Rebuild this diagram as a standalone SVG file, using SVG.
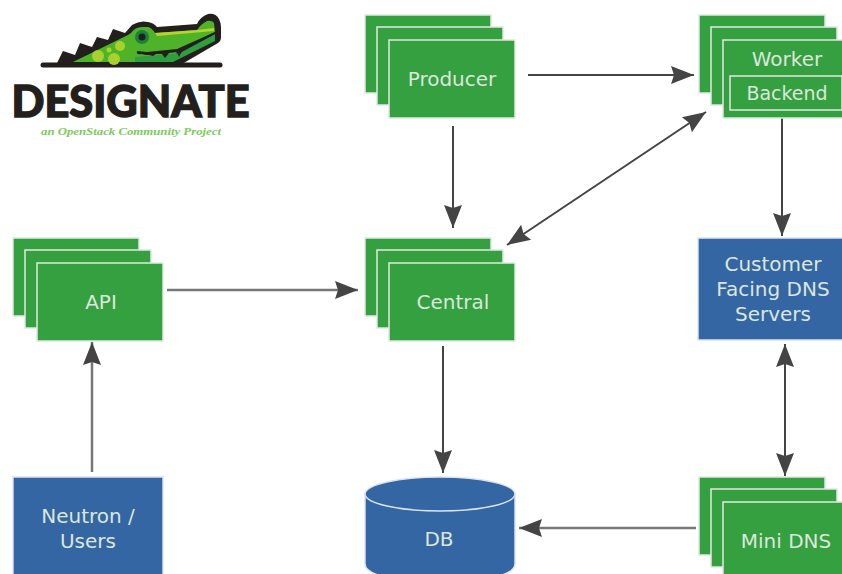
<svg xmlns="http://www.w3.org/2000/svg" width="842" height="574" viewBox="0 0 842 574">
<defs>
<style>
.g{fill:#34a040;stroke:#e2e8e2;stroke-width:1.5}
.b{fill:#3366a3;stroke:#dde4ee;stroke-width:1.5}
.t{font-family:"DejaVu Sans",sans-serif;font-size:20px;fill:#dce6dc;text-anchor:middle}
.c{fill:none;stroke:#444;stroke-width:2}
.c2{fill:none;stroke:#777;stroke-width:2.5}
.h{fill:#444}
</style>
<marker id="a" markerUnits="userSpaceOnUse" markerWidth="24" markerHeight="20" refX="23" refY="10" orient="auto-start-reverse"><path class="h" d="M0 1L23 10L0 19L3 10Z"/></marker>
<g id="s"><rect class="g" x="0" y="0" width="126" height="78"/><rect class="g" x="12" y="12" width="126" height="78"/><rect class="g" x="24" y="25" width="126" height="78"/></g>
</defs>
<rect width="842" height="574" fill="#fff"/>
<g id="logo">
<path d="M43 65H220" stroke="#231f1c" stroke-width="5" stroke-linecap="round" fill="none"/>
<path d="M57 63L63 51L75 55L80 43L92 47L97 37L108 40L113 29L125 33L132 25Q140 20 148 22Q154 23 157 27L197 24Q200 17 208 14Q216 13 219 19Q221 23 221 27V38Q221 41 218 43L182 64Z" fill="#231f1c"/>
<path d="M73 62L128 35L131 33Q135 27 142 27H148Q152 28 155 33L197 30Q201 24 207 21Q212 20 214 23L215 32L177 51L173 62Z" fill="#4fb32a"/>
<path d="M155 33L197 30L214 28V31L157 36Z" fill="#b5d42c"/>
<path d="M135 57L180 53L215 34V41L173 62H135Z" fill="#2f9e3e"/>
<path d="M215 32L177 49L147 52L137 51Q136 55 141 54L146 55L149 55L153 56L156 54L162 54L165 58L169 53L177 52L179 57L182 51L215 34Z" fill="#231f1c"/>
<circle cx="142" cy="37" r="7" fill="#1c7f3c"/><circle cx="142" cy="37" r="3.5" fill="#231f1c"/>
<circle cx="120" cy="46" r="5" fill="#a9d12e"/><circle cx="114" cy="59" r="6" fill="#a9d12e" /><circle cx="98" cy="56" r="6" fill="#a9d12e"/><circle cx="109" cy="50" r="2.5" fill="#a9d12e"/>
<text x="11.5" y="117" font-family="Lato,sans-serif" font-weight="900" font-size="44" fill="#231f1c" stroke="#231f1c" stroke-width="1.4" textLength="238" lengthAdjust="spacingAndGlyphs">DESIGNATE</text>
<text x="41" y="135" font-family="'Liberation Serif',serif" font-style="italic" font-weight="700" font-size="10.5" fill="#7cc95c" textLength="180" lengthAdjust="spacingAndGlyphs">an OpenStack Community Project</text>
</g>
<g id="connectors">
<path class="c" d="M528 75H694" marker-end="url(#a)"/>
<path class="c" d="M453 126V228" marker-end="url(#a)"/>
<path class="c" d="M507 245L706 112" marker-start="url(#a)" marker-end="url(#a)"/>
<path class="c" d="M782 112V236" marker-end="url(#a)"/>
<path class="c2" d="M167 290H358" marker-end="url(#a)"/>
<path class="c2" d="M92 472V342" marker-end="url(#a)"/>
<path class="c" d="M443 346V473" marker-end="url(#a)"/>
<path class="c" d="M785 344V476" marker-start="url(#a)" marker-end="url(#a)"/>
<path class="c2" d="M696 528H519" marker-end="url(#a)"/>
</g>
<g id="producer"><use href="#s" x="365" y="15"/><text class="t" x="452" y="86">Producer</text></g>
<g id="worker"><use href="#s" x="699" y="15"/><rect class="g" x="730" y="76" width="112" height="34"/><text class="t" x="787" y="66">Worker</text><text class="t" x="787" y="100" style="font-size:19px">Backend</text></g>
<g id="api"><use href="#s" x="13" y="238"/><text class="t" x="101" y="309">API</text></g>
<g id="central"><use href="#s" x="365" y="238"/><text class="t" x="453" y="309">Central</text></g>
<g id="dns"><rect class="b" x="698" y="238" width="146" height="102"/><text class="t" x="773" y="271">Customer</text><text class="t" x="773" y="296">Facing DNS</text><text class="t" x="773" y="321">Servers</text></g>
<g id="neutron"><rect class="b" x="13" y="477" width="150" height="100"/><text class="t" x="88" y="523">Neutron /</text><text class="t" x="88" y="548">Users</text></g>
<g id="db"><path class="b" d="M365 494V564C365 574 390 582 440 582S515 574 515 564V494Z"/><ellipse class="b" cx="440" cy="494" rx="75" ry="17"/><text class="t" x="439" y="546">DB</text></g>
<g id="minidns"><use href="#s" x="699" y="477"/><text class="t" x="786" y="548">Mini DNS</text></g>
</svg>
